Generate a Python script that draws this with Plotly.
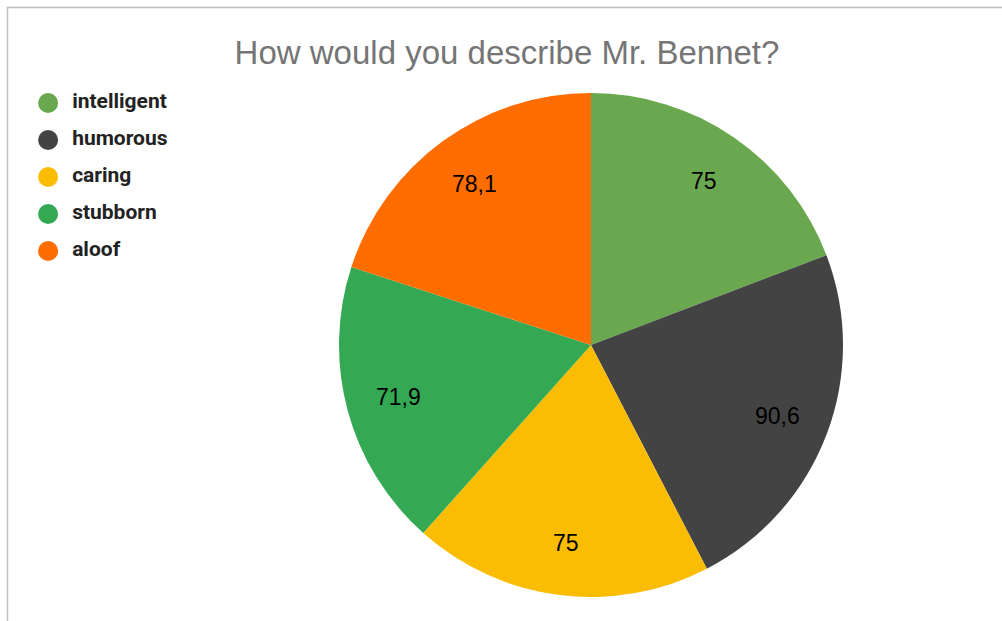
import math
import plotly.graph_objects as go

# Survey answers: how readers describe Mr. Bennet
categories = ["intelligent", "humorous", "caring", "stubborn", "aloof"]
values = [75, 90.6, 75, 71.9, 78.1]
colors = ["#6aa84f", "#434343", "#fbbc04", "#34a853", "#ff6d01"]
value_labels = [f"{v:g}".replace(".", ",") for v in values]

W, H = 1002, 621

fig = go.Figure()

# Pie: starts at 12 o'clock, runs clockwise
cx, cy, r = 591, 345, 252
fig.add_trace(go.Pie(
    labels=categories,
    values=values,
    textinfo="none",
    marker=dict(colors=colors, line=dict(width=0)),
    sort=False,
    direction="clockwise",
    rotation=0,
    showlegend=False,
    hoverinfo="label+value",
    domain=dict(x=[(cx - r) / W, (cx + r) / W], y=[1 - (cy + r) / H, 1 - (cy - r) / H]),
))

# Value labels placed on each slice's mid-angle, at ~79% of the radius
total = sum(values)
annotations = []
cum = 0.0
for v, lab in zip(values, value_labels):
    mid = (cum + v / 2) / total * 2 * math.pi
    cum += v
    px = cx + 0.79 * r * math.sin(mid)
    py = cy - 0.79 * r * math.cos(mid)
    annotations.append(dict(
        x=px / W, y=1 - py / H, xref="paper", yref="paper",
        text=lab, showarrow=False, xanchor="center", yanchor="middle",
        font=dict(family="Liberation Sans, Arial", size=23, color="#000000"),
    ))

# Legend built as a marker column with labels on hidden axes
rows = list(range(len(categories)))
fig.add_trace(go.Scatter(
    x=[0] * len(categories),
    y=rows,
    mode="markers",
    marker=dict(size=20, color=colors, line=dict(width=0)),
    showlegend=False,
    hoverinfo="skip",
))
fig.add_trace(go.Scatter(
    x=[1.2] * len(categories),
    y=rows,
    mode="text",
    text=categories,
    textposition="middle right",
    textfont=dict(family="Roboto, Arial", size=21, color="#222222", weight="bold"),
    showlegend=False,
    hoverinfo="skip",
))

fig.update_layout(
    width=W,
    height=H,
    margin=dict(l=0, r=0, t=0, b=0),
    paper_bgcolor="#ffffff",
    plot_bgcolor="rgba(0,0,0,0)",
    title=dict(
        text="How would you describe Mr. Bennet?",
        x=507 / W,
        xanchor="center",
        y=1 - 52 / H,
        yanchor="middle",
        font=dict(family="Liberation Sans, Arial", size=33, color="#757575"),
    ),
    xaxis=dict(domain=[0, 0.2], range=[-2.4, 7.6], visible=False, fixedrange=True),
    yaxis=dict(domain=[1 - 269.5 / H, 1 - 84.5 / H], range=[4.5, -0.5],
               visible=False, fixedrange=True),
    annotations=annotations,
    shapes=[dict(
        type="rect", xref="paper", yref="paper",
        x0=7.5 / W, x1=1.05, y0=-0.05, y1=1 - 7.5 / H,
        line=dict(color="#c0c0c0", width=1.5),
        fillcolor="rgba(0,0,0,0)", layer="below",
    )],
)

fig.write_html("out.html")
